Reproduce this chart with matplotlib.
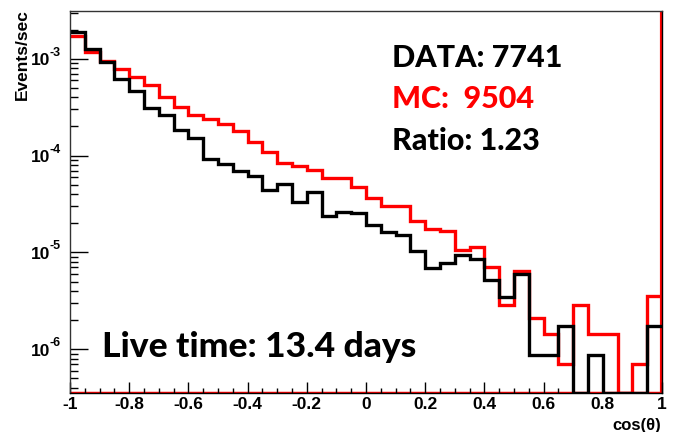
import numpy as np
import matplotlib
matplotlib.use("Agg")
import matplotlib.pyplot as plt
from matplotlib import ticker

# ---- data (Events/sec per cos(theta) bin) ----
bin_edges = np.linspace(-1.0, 1.0, 41)
data_rate = [1.88e-3, 1.27e-3, 9.20e-4, 6.25e-4, 4.70e-4, 3.11e-4, 2.60e-4, 1.84e-4,
             1.52e-4, 9.16e-5, 8.29e-5, 6.93e-5, 6.15e-5, 4.40e-5, 5.04e-5, 3.31e-5,
             4.23e-5, 2.40e-5, 2.64e-5, 2.58e-5, 1.91e-5, 1.62e-5, 1.52e-5, 1.04e-5,
             6.91e-6, 7.78e-6, 9.50e-6, 8.64e-6, 5.18e-6, 3.46e-6, 6.05e-6, 8.64e-7,
             8.64e-7, 1.73e-6, 0.0, 8.64e-7, 0.0, 0.0, 0.0, 1.73e-6]
mc_rate = [1.72e-3, 1.17e-3, 9.53e-4, 7.78e-4, 6.46e-4, 5.38e-4, 4.07e-4, 3.21e-4,
           2.66e-4, 2.38e-4, 2.12e-4, 1.80e-4, 1.37e-4, 1.09e-4, 8.44e-5, 7.81e-5,
           7.09e-5, 5.82e-5, 5.82e-5, 4.76e-5, 3.66e-5, 3.04e-5, 3.04e-5, 2.13e-5,
           1.73e-5, 1.68e-5, 1.06e-5, 1.13e-5, 7.08e-6, 2.83e-6, 6.37e-6, 2.12e-6,
           1.42e-6, 7.08e-7, 2.83e-6, 1.42e-6, 1.42e-6, 0.0, 7.08e-7, 3.54e-6]
x_ticks = [-1, -0.8, -0.6, -0.4, -0.2, 0, 0.2, 0.4, 0.6, 0.8, 1]
x_ticklabels = ["-1", "-0.8", "-0.6", "-0.4", "-0.2", "0", "0.2", "0.4", "0.6", "0.8", "1"]
y_exponents = [-3, -4, -5, -6]
info_lines = [("DATA: 7741", "black"), ("MC:  9504", "#ff0000"), ("Ratio: 1.23", "black")]
live_text = "Live time: 13.4 days"

YMIN, YMAX = 3.55e-7, 3.1e-3

W, H = 675, 432
fig = plt.figure(figsize=(W / 100, H / 100), dpi=100)
L, R, T, B = 70, 662, 11.3, 392.7
ax = fig.add_axes([L / W, 1 - B / H, (R - L) / W, (B - T) / H])

def stepline(vals, color, z):
    v = np.clip(np.asarray(vals, float), YMIN, None)
    ax.step(bin_edges, np.append(v, v[-1]), where='post', color=color, lw=2.4,
            zorder=z, solid_joinstyle='miter')

ax.axhline(YMIN, color='#ff0000', lw=2.5, zorder=1.5)
ax.axvline(1.0, color='#ff0000', lw=3.0, zorder=1.5)
stepline(mc_rate, '#ff0000', 2)
stepline(data_rate, 'black', 2.2)

ax.set_yscale('log')
ax.set_xlim(-1, 1)
ax.set_ylim(YMIN, YMAX)

for s in ['top', 'left', 'right', 'bottom']:
    ax.spines[s].set_linewidth(1.0)
    ax.spines[s].set_zorder(3)
ax.spines['left'].set_color('#333333')
ax.spines['top'].set_color('#333333')

ax.set_xticks(x_ticks)
ax.set_xticklabels(x_ticklabels)
ax.xaxis.set_minor_locator(ticker.MultipleLocator(0.05))
ax.set_yticks([10.0 ** e for e in y_exponents])
ax.yaxis.set_minor_locator(ticker.LogLocator(base=10, subs=np.arange(2, 10), numticks=20))
ax.yaxis.set_major_formatter(ticker.NullFormatter())
ax.yaxis.set_minor_formatter(ticker.NullFormatter())

ax.tick_params(axis='x', which='major', direction='in', length=8, width=1, pad=3,
               labelsize=12.5, top=False)
ax.tick_params(axis='x', which='minor', direction='in', length=3.8, width=1, top=False)
ax.tick_params(axis='y', which='major', direction='in', length=13, width=1, right=False)
ax.tick_params(axis='y', which='minor', direction='in', length=6, width=1, right=False)
for lab in ax.get_xticklabels():
    lab.set_fontfamily('Liberation Sans')
    lab.set_fontweight('bold')

# y tick labels "10" with superscript exponent (ROOT style)
for e in y_exponents:
    ypix = ax.transData.transform((0, 10.0 ** e))[1]
    fig.text(50 / W, (ypix - 2) / H, "10", ha='right', va='center',
             fontsize=12.5, fontweight='bold', family='Liberation Sans')
    fig.text(50 / W, (ypix + 6) / H, str(e), ha='left', va='center',
             fontsize=9, fontweight='bold', family='Liberation Sans')

fig.text(22 / W, 1 - 9 / H, "Events/sec", rotation=90, ha='center', va='top',
         fontsize=12.5, fontweight='bold', family='Liberation Sans')
fig.text(661 / W, 1 - 430 / H, "cos(θ)", ha='right', va='baseline',
         fontsize=12, fontweight='bold', family='Liberation Sans')

baselines = [66.7, 108, 150]
for (txt, col), yb in zip(info_lines, baselines):
    fig.text(392 / W, 1 - yb / H, txt, ha='left', va='baseline', color=col,
             fontsize=22, fontweight='black', family='Lato')
fig.text(102 / W, 1 - 356.7 / H, live_text, ha='left', va='baseline', color='black',
         fontsize=25.5, fontweight='black', family='Lato')

fig.savefig("out.png", dpi=100)
